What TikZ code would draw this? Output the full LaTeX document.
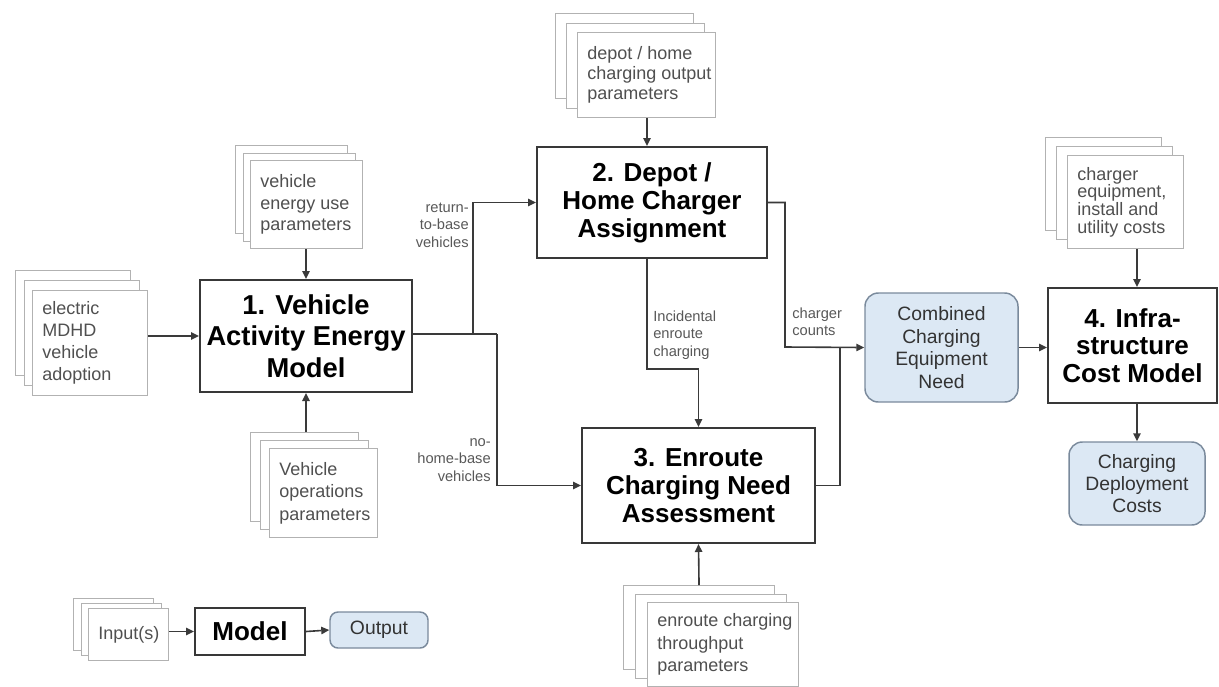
\documentclass[tikz,border=0pt]{standalone}
\usepackage{fontspec}
\setmainfont{Liberation Sans}
\usetikzlibrary{arrows.meta,calc}
\definecolor{boxline}{HTML}{383838}
\definecolor{inline}{HTML}{B2B2B2}
\definecolor{intextc}{HTML}{505050}
\definecolor{connc}{HTML}{3A3A3A}
\definecolor{outfill}{HTML}{DCE8F4}
\definecolor{outline}{HTML}{7A8A9C}
\definecolor{lblc}{HTML}{585858}
\tikzset{
  inframe/.style={draw=inline, line width=0.8pt, fill=white, inner sep=0pt, anchor=north west},
  intxt/.style={text=intextc, align=left, inner sep=0pt, anchor=west},
  mainbox/.style={draw=boxline, line width=1.5pt, fill=white, align=center, inner sep=1pt,
    font=\fontsize{19.5}{21}\selectfont\bfseries},
  outbox/.style={draw=outline, line width=1.1pt, fill=outfill, rounded corners=10pt, align=center,
    text=black!80, font=\fontsize{14.5}{17}\selectfont},
  lab/.style={font=\fontsize{11}{13}\selectfont, text=lblc, inner sep=0pt},
  ln/.style={draw=connc, line width=1.2pt},
  arr/.style={draw=connc, line width=1.2pt, -{Triangle[length=6pt,width=5.5pt]}},
}
% #1 name, #2 x, #3 y (front top-left), #4 w, #5 h, #6 dx, #7 dy, #8 baselineskip, #9 text
\newcommand\instack[9]{%
  \node[inframe, minimum width=#4*0.75pt, minimum height=#5*0.75pt] (#1b) at (#2-2*#6,#3-2*#7) {};
  \node[inframe, minimum width=#4*0.75pt, minimum height=#5*0.75pt] (#1m) at (#2-#6,#3-#7) {};
  \node[inframe, minimum width=#4*0.75pt, minimum height=#5*0.75pt] (#1) at (#2,#3) {};
  \node[intxt, font=\fontsize{13.5}{#8}\selectfont] (#1t) at ([xshift=7.5pt]#1.west) {#9};
}
\begin{document}
\begin{tikzpicture}[x=0.75pt,y=-0.75pt]
\useasboundingbox (0,0) rectangle (1219,686);

% input stacks
\instack{inA}{32}{290}{115}{105}{8.5}{10}{16.5}{electric\\MDHD\\vehicle\\adoption}
\instack{inB}{250}{160}{112}{88}{7.5}{7.5}{16}{vehicle\\energy use\\parameters}
\instack{inC}{269}{448}{108}{89}{9.5}{8}{17}{Vehicle\\operations\\parameters}
\instack{inD}{577}{32}{138}{85}{11}{9.5}{15}{depot / home\\charging output\\parameters}
\instack{inE}{647}{602}{151}{84}{12}{8.5}{17}{enroute charging\\throughput\\parameters}
\instack{inF}{1067}{155}{116}{93}{11}{9}{13.3}{charger\\equipment,\\install and\\utility costs}
\instack{inL}{88}{608}{80}{52}{7.5}{5}{15}{Input(s)}

% main boxes
\node[mainbox, minimum width=212*0.75pt, minimum height=112*0.75pt,
  font=\fontsize{20.5}{23.5}\selectfont\bfseries] (b1) at (306,336) {1. Vehicle\\Activity Energy\\Model};
\node[mainbox, minimum width=230*0.75pt, minimum height=111*0.75pt] (b2) at (652,202.5) {2. Depot /\\Home Charger\\Assignment};
\node[mainbox, minimum width=233*0.75pt, minimum height=115*0.75pt] (b3) at (698.5,485.5) {3. Enroute\\Charging Need\\Assessment};
\node[mainbox, minimum width=169*0.75pt, minimum height=115*0.75pt,
  font=\fontsize{19.5}{20.5}\selectfont\bfseries] (b4) at (1132.5,345.5) {4. Infra-\\structure\\Cost Model};

% outputs
\node[outbox, minimum width=153*0.75pt, minimum height=109*0.75pt] (cm) at (941.5,347.5) {Combined\\Charging\\Equipment\\Need};
\node[outbox, minimum width=136*0.75pt, minimum height=83*0.75pt,
  font=\fontsize{14.5}{16.5}\selectfont] (co) at (1137,483.5) {Charging\\Deployment\\Costs};

% legend
\node[mainbox, minimum width=110*0.75pt, minimum height=47*0.75pt] (lm) at (250,631.5) {Model};
\node[outbox, rounded corners=6pt, minimum width=98*0.75pt, minimum height=36*0.75pt] (lo) at (379,630) {Output};

% junction coordinates
\coordinate (j1) at (473,334);
\coordinate (j2) at (497,334);
\coordinate (k1) at (647,369);
\coordinate (m1) at (785,347);
\coordinate (m2) at (840,347);

% connectors
\draw[arr] (inA.east |- b1.west) -- (b1.west);
\draw[arr] (inB.south -| b1.north) -- (b1.north);
\draw[arr] (inCb.north -| b1.south) -- (b1.south);
\draw[ln] (b1.east |- j1) -- (j2);
\draw[arr] (j1) |- (b2.west);
\draw[arr] (j2) |- (b3.west);
\draw[arr] (inD.south -| k1) -- (b2.north -| k1);
\draw[arr] (b2.south -| k1) -- (k1) -| (b3.north);
\draw[arr] (inEb.north) -- (b3.south);
\draw[arr] (b2.east) -| (m1) -- (cm.west);
\draw[ln] (b3.east) -| (m2);
\draw[arr] (cm.east) -- (cm.east -| b4.west);
\draw[arr] (inF.south -| co.north) -- (b4.north -| co.north);
\draw[arr] (b4.south -| co.north) -- (co.north);
\draw[arr] (inL.east |- lm.west) -- (lm.west);
\draw[arr] (lm.east) -- (lo.west);

% connector labels
\node[lab, align=right, anchor=east] (l1) at (469,225) {return-\\to-base\\vehicles};
\node[lab, align=right, anchor=east] (l2) at (491,460) {no-\\home-base\\vehicles};
\node[lab, align=left, anchor=west] (l3) at (653,335) {Incidental\\enroute\\charging};
\node[lab, align=left, anchor=west] (l4) at (792,322) {charger\\counts};
\end{tikzpicture}
\end{document}
